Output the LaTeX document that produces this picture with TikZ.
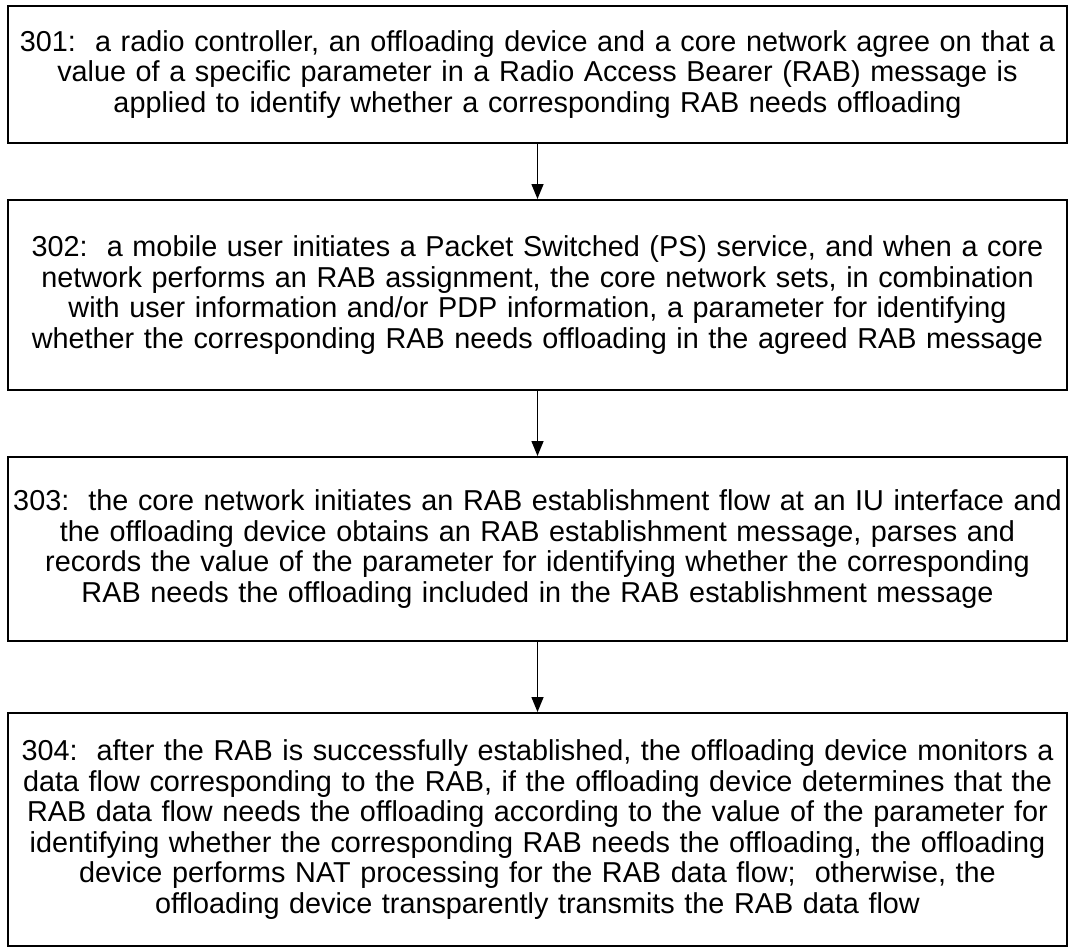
\documentclass[tikz,border=0pt]{standalone}
\usepackage{fontspec}
\setmainfont{Liberation Sans}
\usetikzlibrary{arrows.meta}
\frenchspacing
\tikzset{>={Triangle[length=15pt,width=12pt]}}
\tikzset{stepbox/.style={draw,line width=2pt,inner sep=0pt,text width=1059pt,
  align=center,font=\fontsize{28.8}{30.5}\selectfont}}

\begin{document}
\begin{tikzpicture}[x=1pt,y=-1pt]
  \useasboundingbox (0,0) rectangle (1070,947);
  \node[stepbox,minimum height=137pt] (s301) at (537.5,74.5)
    {301:~ a radio controller, an offloading device and a core network agree on that a\\
     value of a specific parameter in a Radio Access Bearer (RAB) message is\\
     applied to identify whether a corresponding RAB needs offloading};
  \node[stepbox,minimum height=190pt] (s302) at (537.5,295)
    {302:~ a mobile user initiates a Packet Switched (PS) service, and when a core\\
     network performs an RAB assignment, the core network sets, in combination\\
     with user information and/or PDP information, a parameter for identifying\\
     whether the corresponding RAB needs offloading in the agreed RAB message};
  \node[stepbox,minimum height=184pt] (s303) at (537.5,549)
    {303:~ the core network initiates an RAB establishment flow at an IU interface and\\
     the offloading device obtains an RAB establishment message, parses and\\
     records the value of the parameter for identifying whether the corresponding\\
     RAB needs the offloading included in the RAB establishment message};
  \node[stepbox,minimum height=233pt] (s304) at (537.5,829.5)
    {304:~ after the RAB is successfully established, the offloading device monitors a\\
     data flow corresponding to the RAB, if the offloading device determines that the\\
     RAB data flow needs the offloading according to the value of the parameter for\\
     identifying whether the corresponding RAB needs the offloading, the offloading\\
     device performs NAT processing for the RAB data flow;~ otherwise, the\\
     offloading device transparently transmits the RAB data flow};
  \draw[->,line width=1.5pt] (s301) -- (s302);
  \draw[->,line width=1.5pt] (s302) -- (s303);
  \draw[->,line width=1.5pt] (s303) -- (s304);
\end{tikzpicture}
\end{document}
